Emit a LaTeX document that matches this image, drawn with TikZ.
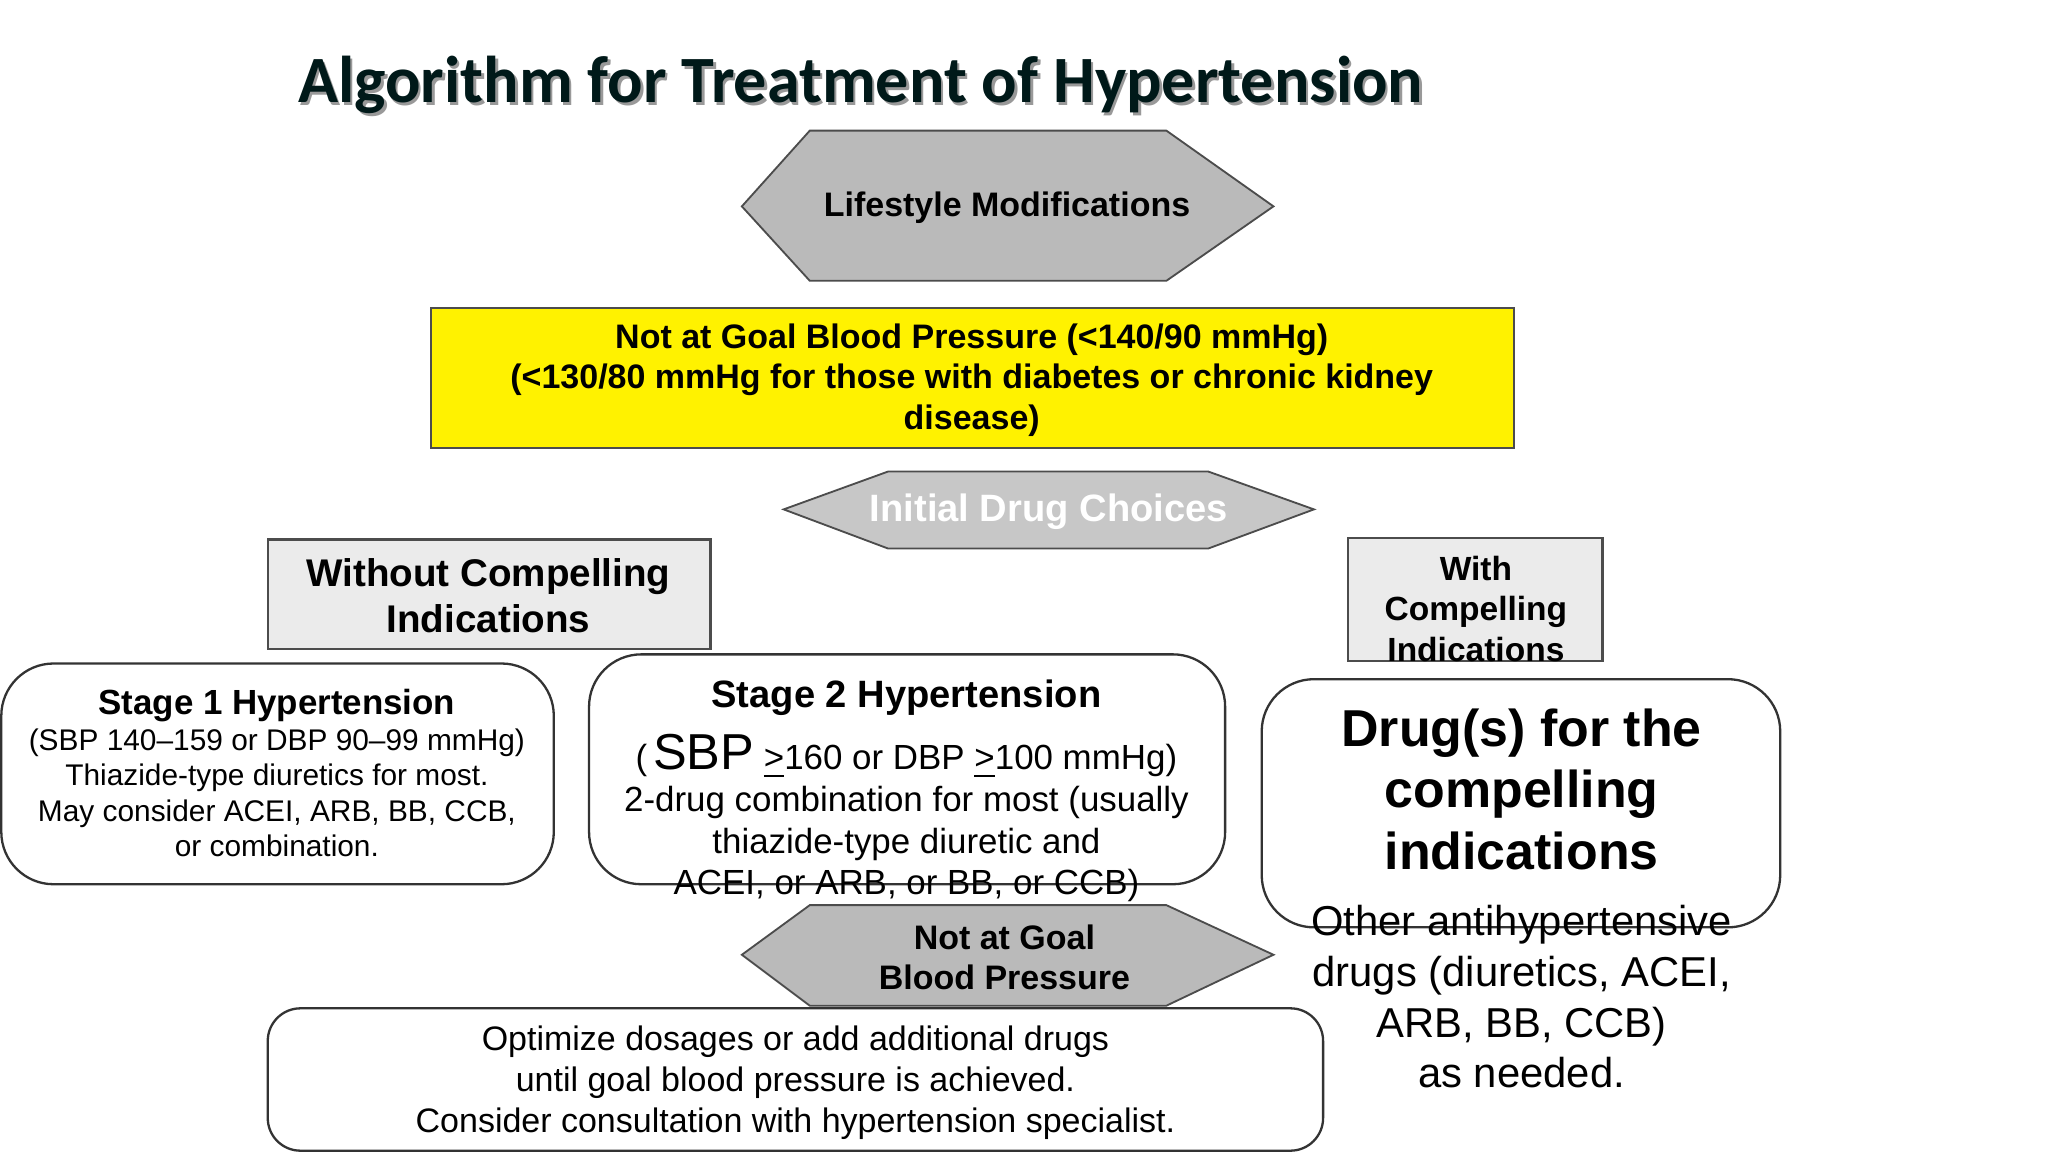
\documentclass[tikz,border=0pt]{standalone}
\usepackage{fontspec}
\setmainfont{Liberation Sans}
\newfontfamily\titlefont{Carlito}
\begin{document}
\begin{tikzpicture}[x=0.01cm,y=-0.01cm,
  hexa/.style={draw=black!70,line width=0.4pt,fill=black!27},
  sq/.style={draw=black!70,line width=0.5pt},
  rbox/.style={draw=black!80,line width=0.5pt,rounded corners=0.4cm,fill=white},
  txt/.style={align=center,inner sep=0pt}]
\useasboundingbox[fill=white] (0,0) rectangle (1568,882);
% title
\node[txt,text=black!40,font=\titlefont\fontsize{14.4}{17}\selectfont\bfseries] at (661,67) {Algorithm for Treatment of Hypertension};
\node[txt,text=black!80!teal,font=\titlefont\fontsize{14.4}{17}\selectfont\bfseries] (title) at (659,65) {Algorithm for Treatment of Hypertension};
% lifestyle hexagon
\draw[hexa] (568,158) -- (620,100) -- (893,100) -- (975,158) -- (893,215) -- (620,215) -- cycle;
\node[txt,font=\fontsize{7.4}{8.8}\selectfont\bfseries] (life) at (771,159) {Lifestyle Modifications};
% yellow box
\draw[sq,fill=yellow] (330,236) rectangle (1159,343);
\node[txt,font=\fontsize{7.4}{8.85}\selectfont\bfseries] (goal) at (744,291) {Not at Goal Blood Pressure (<140/90 mmHg)\\(<130/80 mmHg for those with diabetes or chronic kidney\\disease)};
% initial drug choices
\draw[hexa,fill=black!22] (600,390) -- (680,361) -- (925,361) -- (1006,390) -- (925,420) -- (680,420) -- cycle;
\node[txt,text=white,font=\fontsize{8.3}{10}\selectfont\bfseries] (init) at (803,392) {Initial Drug Choices};
% without
\draw[sq,fill=black!8] (205,413) rectangle (544,497);
\node[txt,font=\fontsize{8.4}{10}\selectfont\bfseries] (without) at (374,456) {Without Compelling\\Indications};
% with
\draw[sq,fill=black!8] (1032,412) rectangle (1227,506);
\node[txt,font=\fontsize{7.3}{8.8}\selectfont\bfseries] (with) at (1130,466) {With\\Compelling\\Indications};
% stage 1
\draw[rbox] (1,508) rectangle (424,677);
\node[txt,anchor=north,font=\fontsize{6.5}{7.75}\selectfont] (s1) at (212,527) {{\fontsize{7.6}{9}\selectfont\bfseries Stage 1 Hypertension}\\(SBP 140–159 or DBP 90–99 mmHg)\\Thiazide-type diuretics for most.\\May consider ACEI, ARB, BB, CCB,\\or combination.};
% stage 2
\draw[rbox] (451,501) rectangle (938,677);
\node[txt,anchor=north,font=\fontsize{7.6}{9.1}\selectfont] (s2) at (694,520) {{\fontsize{8.3}{9.5}\selectfont\bfseries Stage 2 Hypertension}\\[3pt](\,{\fontsize{11}{11}\selectfont SBP} \underline{>}160 or DBP \underline{>}100 mmHg)\\2-drug combination for most (usually\\thiazide-type diuretic and\\ACEI, or ARB, or BB, or CCB)};
% drugs for compelling
\draw[rbox] (966,520) rectangle (1363,710);
\node[txt,anchor=north,font=\fontsize{11.3}{13.4}\selectfont\bfseries] (drugs) at (1165,542) {Drug(s) for the\\compelling\\indications};
\node[txt,anchor=north,font=\fontsize{9.1}{11.1}\selectfont] (other) at (1165,692) {Other antihypertensive\\drugs (diuretics, ACEI,\\ARB, BB, CCB)\\as needed.};
% not at goal hexagon
\draw[hexa] (568,731) -- (620,693) -- (893,693) -- (975,731) -- (893,770) -- (620,770) -- cycle;
\node[txt,font=\fontsize{7.4}{8.9}\selectfont\bfseries] (notgoal) at (769,733) {Not at Goal\\Blood Pressure};
% bottom box
\draw[rbox,rounded corners=0.25cm] (205,772) rectangle (1013,881);
\node[txt,font=\fontsize{7.4}{8.85}\selectfont] (opt) at (609,829) {Optimize dosages or add additional drugs\\until goal blood pressure is achieved.\\Consider consultation with hypertension specialist.};
\end{tikzpicture}
\end{document}
